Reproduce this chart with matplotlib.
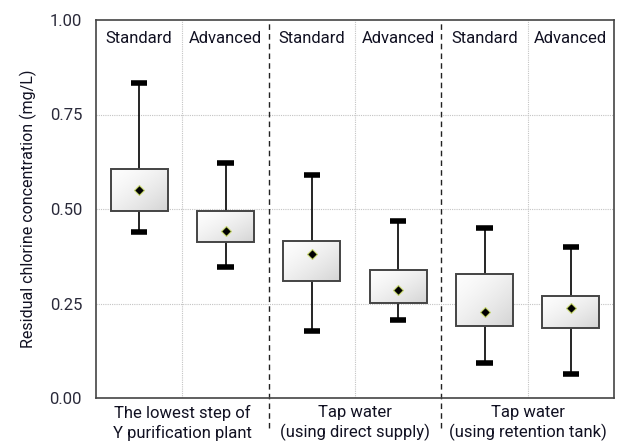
import matplotlib
matplotlib.use("Agg")
import matplotlib.pyplot as plt
import numpy as np
from matplotlib.patches import Rectangle

plt.rcParams['font.family'] = ['Roboto', 'DejaVu Sans']

treatments = ["Standard", "Advanced", "Standard", "Advanced", "Standard", "Advanced"]
groups = ["The lowest step of\nY purification plant",
          "Tap water\n(using direct supply)",
          "Tap water\n(using retention tank)"]
whisker_low = [0.44, 0.347, 0.177, 0.206, 0.093, 0.063]
q1 = [0.495, 0.413, 0.31, 0.251, 0.19, 0.185]
q3 = [0.606, 0.495, 0.415, 0.339, 0.328, 0.27]
whisker_high = [0.833, 0.622, 0.59, 0.468, 0.45, 0.40]
means = [0.55, 0.442, 0.381, 0.286, 0.228, 0.238]
yticks = [0.0, 0.25, 0.5, 0.75, 1.0]

fig = plt.figure(figsize=(6.18, 4.46), dpi=100)
ax = fig.add_axes([96/618, 48/446, 518/618, 378/446])
ax.set_xlim(0, 6)
ax.set_ylim(0, 1.0)

tick_color = '#2a2a3a'
for s in ax.spines.values():
    s.set_color('#444444')
    s.set_linewidth(1.2)

# grid
for y in yticks[1:-1]:
    ax.axhline(y, color='#c4c4c4', lw=0.8, ls=(0, (1, 1)), zorder=0)
for x in [1, 3, 5]:
    ax.axvline(x, color='#c4c4c4', lw=0.8, ls=(0, (1, 1)), zorder=0)
for x in [2, 4]:
    ax.plot([x, x], [-0.08, 1.0], color='#222222', lw=1.0, ls=(0, (4, 3)),
            clip_on=False, zorder=1)

bw = 0.66
cw = 0.19
g = np.linspace(0, 1, 60)
grad = (np.add.outer(g, g) / 2) ** 1.5
cmap = matplotlib.colors.LinearSegmentedColormap.from_list('g', ['#fdfdfd', '#d4d4d4'])
for i in range(6):
    xc = i + 0.5
    ax.plot([xc, xc], [q3[i], whisker_high[i]], color='black', lw=1.2, zorder=2)
    ax.plot([xc, xc], [whisker_low[i], q1[i]], color='black', lw=1.2, zorder=2)
    for yv in (whisker_low[i], whisker_high[i]):
        ax.plot([xc - cw/2, xc + cw/2], [yv, yv], color='black', lw=4,
                solid_capstyle='butt', zorder=2)
    rect = Rectangle((xc - bw/2, q1[i]), bw, q3[i] - q1[i], facecolor='none',
                     edgecolor='#444444', lw=1.4, zorder=4)
    ax.add_patch(rect)
    im = ax.imshow(grad, extent=(xc - bw/2, xc + bw/2, q1[i], q3[i]),
                   cmap=cmap, aspect='auto', zorder=3, origin='upper')
    im.set_clip_path(rect)
    ax.plot(xc, means[i], marker='D', ms=5, mfc='black', mec='#c8d870',
            mew=0.8, zorder=5)
    ax.text(xc, 0.95, treatments[i], ha='center', va='center', fontsize=12,
            color='#111122')

ax.set_yticks(yticks)
ax.set_yticklabels([f"{v:.2f}" for v in yticks], fontsize=12, color=tick_color)
ax.tick_params(axis='y', length=0, pad=10)
ax.set_xticks([1, 3, 5])
ax.set_xticklabels(groups, fontsize=12, color='#111122', linespacing=1.3)
ax.tick_params(axis='x', length=0, pad=5)
ax.set_ylabel("Residual chlorine concentration (mg/L)", fontsize=11.5,
              color='#111122', labelpad=9)

fig.savefig("out.png", dpi=100)
